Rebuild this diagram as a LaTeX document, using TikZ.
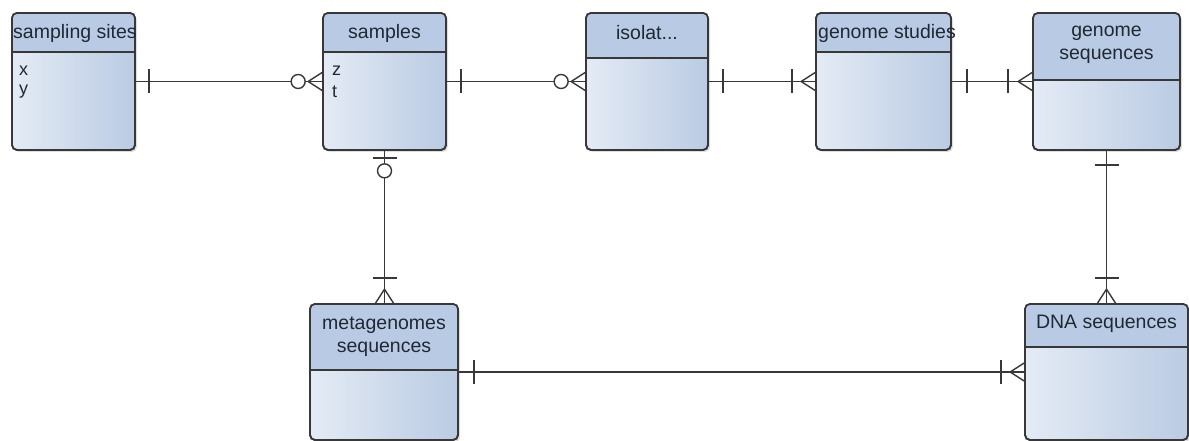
\documentclass[tikz,border=0pt]{standalone}
\usepackage{fontspec}
\setmainfont{Liberation Sans}
\usetikzlibrary{calc,shadows}
\definecolor{hdr}{HTML}{B9CBE4}
\definecolor{bodyL}{HTML}{E4EBF5}
\definecolor{bodyR}{HTML}{BACBE3}
\definecolor{edgec}{HTML}{383838}
\definecolor{txtc}{HTML}{202833}
\tikzset{
 x=1pt, y=-1pt,
 ent/.style={draw=edgec, line width=1.7pt, rounded corners=5pt, left color=bodyL, right color=bodyR,
   drop shadow={opacity=0.25, shadow xshift=2pt, shadow yshift=-2pt}, inner sep=0pt},
 rel/.style={draw=edgec, line width=1.4pt},
 ttl/.style={font=\fontsize{19.5}{23}\selectfont, text=txtc, inner sep=0pt, align=center},
 att/.style={font=\fontsize{18}{20}\selectfont, text=txtc, anchor=west, inner sep=0pt}
}
\newcommand\entbox[6]{%
 \node[ent, minimum width={#4-#2}, minimum height={#5-#3}] (#1) at ({(#2+#4)/2},{(#3+#5)/2}) {};
 \begin{scope}
  \clip[rounded corners=5pt] (#2,#3) rectangle (#4,#5);
  \fill[hdr] (#2,#3) rectangle (#4,#6);
 \end{scope}
 \draw[edgec, line width=1.7pt, rounded corners=5pt] (#2,#3) rectangle (#4,#5);
 \draw[edgec, line width=1.7pt] (#2,#6) -- (#4,#6);
}
\newcommand\barH[2]{\draw[rel] ($(#1)+(#2,-12)$) -- ($(#1)+(#2,12)$);}
\newcommand\barV[2]{\draw[rel] ($(#1)+(-12,#2)$) -- ($(#1)+(12,#2)$);}
\newcommand\crowW[1]{\draw[rel] ($(#1)+(0,-9)$) -- ($(#1)+(-14,0)$) -- ($(#1)+(0,9)$);}
\newcommand\crowN[1]{\draw[rel] ($(#1)+(-9,0)$) -- ($(#1)+(0,-14)$) -- ($(#1)+(9,0)$);}
\begin{document}
\begin{tikzpicture}
\fill[white] (0,0) rectangle (1189,441);
\useasboundingbox (0,0) rectangle (1189,441);

\entbox{ss}{12}{13}{135}{150}{52}
\entbox{sm}{323}{13}{446}{150}{52}
\entbox{is}{586}{13}{708}{150}{58}
\entbox{gs}{816}{13}{951}{150}{52}
\entbox{gq}{1033}{13}{1180}{150}{80}
\entbox{mg}{310}{304}{458}{440}{370}
\entbox{dn}{1025}{304}{1188}{440}{347}

\node[ttl, anchor=west] (ss-t) at (13,33) {sampling sites};
\node[att] (ss-x) at (19,71) {x};
\node[att] (ss-y) at (19,92) {y};
\node[ttl] (sm-t) at (384.5,33) {samples};
\node[att] (sm-z) at (332,71) {z};
\node[att] (sm-tt) at (332,92) {t};
\node[ttl] (is-t) at (647,33) {isolat...};
\node[ttl, anchor=west] (gs-t) at (818,33) {genome studies};
\node[ttl] (gq-t) at (1106.5,44.5) {genome\\sequences};
\node[ttl] (mg-t) at (384,336.5) {metagenomes\\sequences};
\node[ttl] (dn-t) at (1106.5,324) {DNA sequences};

% top row connectors
\draw[rel] (ss) -- (sm);
\barH{ss.east}{13}
\crowW{sm.west}
\draw[rel, fill=white] ($(sm.west)+(-24,0)$) circle (7);

\draw[rel] (sm) -- (is);
\barH{sm.east}{14}
\crowW{is.west}
\draw[rel, fill=white] ($(is.west)+(-24,0)$) circle (7);

\draw[rel] (is) -- (gs);
\barH{is.east}{14}
\crowW{gs.west}
\barH{gs.west}{-23}

\draw[rel] (gs) -- (gq);
\barH{gs.east}{15}
\crowW{gq.west}
\barH{gq.west}{-24}

% verticals
\draw[rel] (sm.south) -- (sm.south |- mg.north);
\barV{sm.south}{7}
\draw[rel, fill=white] ($(sm.south)+(0,20)$) circle (7);
\crowN{sm.south |- mg.north}
\barV{sm.south |- mg.north}{-25}

\draw[rel] (gq.south) -- (gq.south |- dn.north);
\barV{gq.south}{14}
\crowN{gq.south |- dn.north}
\barV{gq.south |- dn.north}{-25}

% bottom
\draw[rel] (mg) -- (dn);
\barH{mg.east}{15}
\crowW{dn.west}
\barH{dn.west}{-23}
\end{tikzpicture}
\end{document}
